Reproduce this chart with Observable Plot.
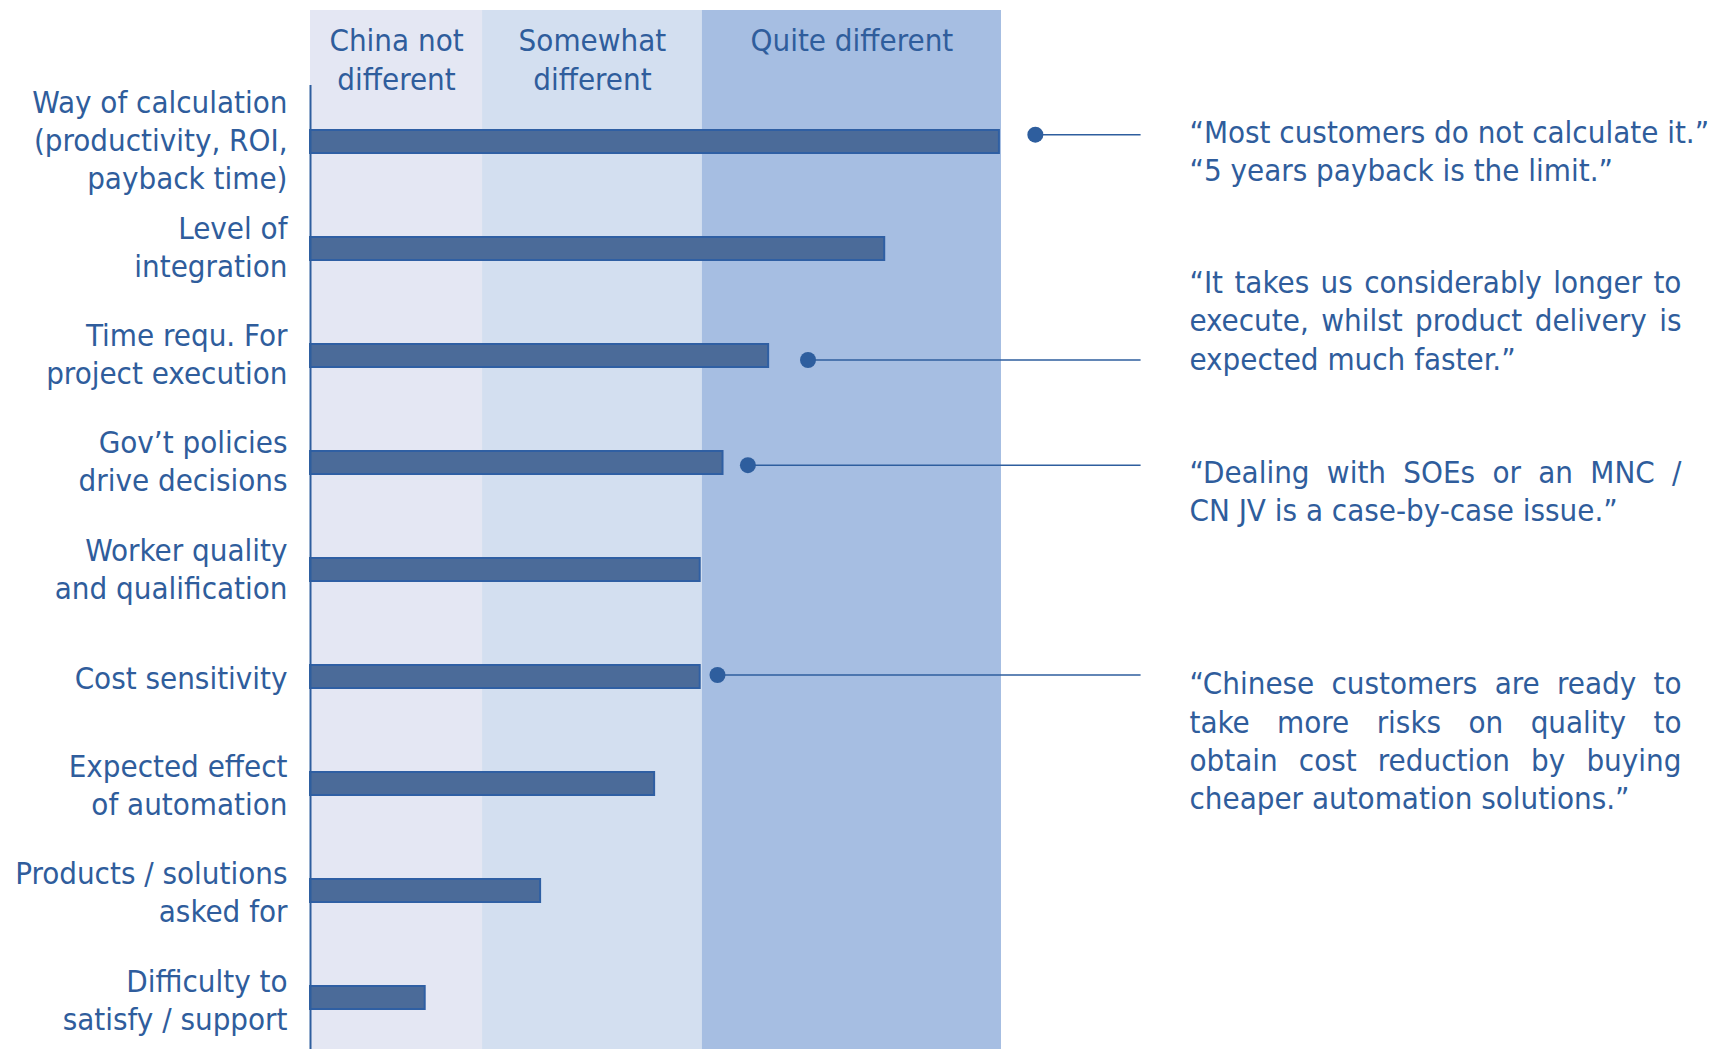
<!DOCTYPE html>
<html>
<head>
<meta charset="utf-8">
<script src="https://cdn.jsdelivr.net/npm/d3@7"></script>
<script src="https://cdn.jsdelivr.net/npm/@observablehq/plot@0.6"></script>
<style>
  html, body { margin: 0; padding: 0; background: #ffffff; }
  #chart svg { display: block; }
</style>
</head>
<body>
<div id="chart"></div>
<script>
// ---- data ----
const categories = [
  "Way of calculation\n(productivity, ROI,\npayback time)",
  "Level of\nintegration",
  "Time requ. For\nproject execution",
  "Gov’t policies\ndrive decisions",
  "Worker quality\nand qualification",
  "Cost sensitivity",
  "Expected effect\nof automation",
  "Products / solutions\nasked for",
  "Difficulty to\nsatisfy / support"
];
const values = [99.7, 83.1, 66.3, 59.7, 56.4, 56.4, 49.8, 33.3, 16.6];

const bandLabels = ["China not\ndifferent", "Somewhat\ndifferent", "Quite different"];
const bandEdges = [0, 24.9, 56.7, 100];

const quoteCategories = [categories[0], categories[2], categories[3], categories[5]];
const quoteDotX = [104.9, 72.0, 63.3, 58.9];
const quoteTexts = [
  "“Most customers do not calculate it.”\n“5 years payback is the limit.”",
  "“It takes us considerably longer to\nexecute, whilst product delivery is\nexpected much faster.”",
  "“Dealing with SOEs or an MNC /\nCN JV is a case-by-case issue.”",
  "“Chinese customers are ready to\ntake more risks on quality to\nobtain cost reduction by buying\ncheaper automation solutions.”"
];

// ---- tables built from the arrays ----
const rows = categories.map((c, i) => ({category: c, value: values[i]}));
const bands = bandLabels.map((l, i) => ({label: l, start: bandEdges[i], end: bandEdges[i + 1]}));
const notes = quoteCategories.map((c, i) => ({category: c, dotX: quoteDotX[i], text: quoteTexts[i]}));

// ---- styling / layout ----
const FONT = "'DejaVu Sans Condensed', 'DejaVu Sans', sans-serif";
const FS = 31;
const LH = 1.232;
const TEXT = "#2F5D9C";
const LINE = "#2E5E9E";
const firstBaseline = 0.71 * LH * FS;
const dotDy = [-7.3, 4, 2.2, -2];
const quoteDy = [1.3, -62.8, 20.1, 17.4];
const labelDy = [-3, -3, -3, -3, -2, 0, 0, 0, 1];
const justify = [false, true, true, true];
const connectorEnd = 120.2, quoteX = 127.2, quoteRight = 198.4;

const noteMarks = notes.flatMap((n, i) => [
  Plot.ruleY([n], {y: "category", x1: "dotX", x2: () => connectorEnd, dy: dotDy[i], stroke: LINE, strokeWidth: 1.6}),
  Plot.dot([n], {y: "category", x: "dotX", dy: dotDy[i], r: 8, fill: LINE, stroke: "none"}),
  Plot.text([n], {
    y: "category", x: () => quoteX, text: "text",
    textAnchor: "start", lineAnchor: "top", lineHeight: LH,
    dy: quoteDy[i] - firstBaseline,
    fill: TEXT, fontSize: FS,
    className: justify[i] ? "quote-just" : "quote"
  })
]);

const labelMarks = rows.map((r, i) =>
  Plot.text([r], {
    x: () => 0, y: "category", text: "category",
    textAnchor: "end", dx: -23, dy: labelDy[i], lineHeight: LH,
    fill: TEXT, fontSize: FS
  })
);

const chart = Plot.plot({
  width: 1711,
  height: 1049,
  marginLeft: 310,
  marginRight: 710,
  marginTop: 10,
  marginBottom: 0,
  style: {fontFamily: FONT, fontSize: FS + "px", color: TEXT, background: "#ffffff", overflow: "visible"},
  x: {domain: [0, 100], axis: null},
  y: {domain: categories, range: [126.5, 1012.3], paddingInner: 0.7677, paddingOuter: 0, axis: null},
  color: {domain: bandLabels, range: ["#E4E7F3", "#D3DFF0", "#A6BEE2"]},
  marks: [
    Plot.rect(bands, {x1: "start", x2: "end", fill: "label"}),
    Plot.text(bands, {
      x: d => (d.start + d.end) / 2, text: "label",
      frameAnchor: "top", lineAnchor: "top", lineHeight: LH,
      dy: 51.7 - 10 - firstBaseline - 0.8,
      fill: TEXT, fontSize: FS
    }),
    Plot.barX(rows, {x: "value", y: "category", fill: "#4B6B99", stroke: "#2F5FA3", strokeWidth: 2, insetTop: 1, insetBottom: 1}),
    Plot.ruleX([0], {stroke: LINE, strokeWidth: 2, insetTop: 75}),
    ...labelMarks,
    ...noteMarks
  ]
});

document.getElementById("chart").appendChild(chart);

// justify the wrapped quote lines (all but the last line of each quote)
const xs = chart.scale("x");
const target = xs.apply(quoteRight) - xs.apply(quoteX);
chart.querySelectorAll("g.quote-just text").forEach(t => {
  const spans = Array.from(t.querySelectorAll("tspan"));
  spans.slice(0, -1).forEach(s => {
    const spaces = (s.textContent.match(/ /g) || []).length;
    if (!spaces) return;
    const w = s.getComputedTextLength();
    const extra = (target - w) / spaces;
    if (extra > 0) s.style.wordSpacing = extra + "px";
  });
});
</script>
</body>
</html>
